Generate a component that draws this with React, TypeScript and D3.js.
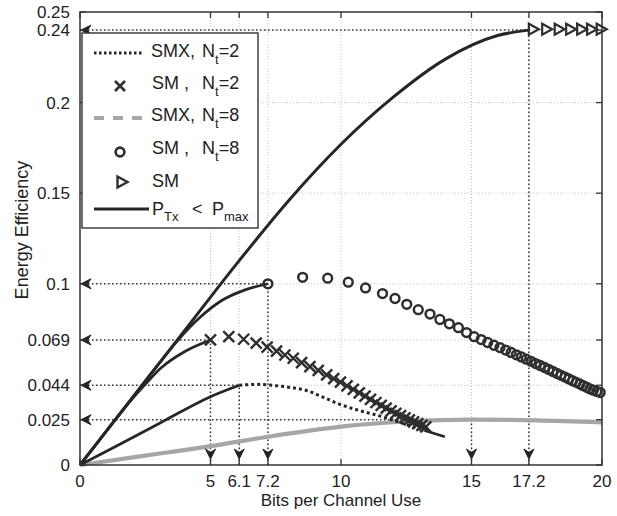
import React from 'react';
import * as d3 from 'd3';

// ---------- data ----------
const xTickValues = [0, 5, 6.1, 7.2, 10, 15, 17.2, 20];
const xTickLabels = ['0', '5', '6.1', '7.2', '10', '15', '17.2', '20'];
const yTickValues = [0, 0.025, 0.044, 0.069, 0.1, 0.15, 0.2, 0.24, 0.25];
const yTickLabels = ['0', '0.025', '0.044', '0.069', '0.1', '0.15', '0.2', '0.24', '0.25'];

// SM, P_Tx < P_max (solid)
const smSolidX = [0, 2, 4, 6, 8, 10, 12, 14, 16, 17.2];
const smSolidY = [0, 0.037, 0.074, 0.111, 0.146, 0.177, 0.203, 0.224, 0.237, 0.24];
// SM triangles
const smTriX = [17.37, 17.88, 18.36, 18.8, 19.22, 19.6, 19.97];
const smTriY = [0.2405, 0.2405, 0.2405, 0.2405, 0.2405, 0.2405, 0.2405];

// SM, Nt=8 solid
const smNt8SolidX = [0, 1, 2, 3, 3.7, 4.6, 5.4, 6.3, 7.2];
const smNt8SolidY = [0, 0.0185, 0.037, 0.0555, 0.068, 0.0815, 0.0905, 0.0965, 0.1];
// SM, Nt=8 circles
const smNt8CircX = [7.2, 8.53, 9.49, 10.28, 10.94, 11.59, 12.07, 12.52, 12.96, 13.41, 13.79, 14.15, 14.5, 14.81, 15.1,
  15.37, 15.62, 15.86, 16.09, 16.31, 16.52, 16.72, 16.91, 17.1, 17.28, 17.46, 17.63, 17.8, 17.96, 18.12, 18.28,
  18.43, 18.58, 18.73, 18.87, 19.01, 19.15, 19.28, 19.41, 19.54, 19.67, 19.8, 19.93];
const smNt8CircY = [0.1, 0.1036, 0.1031, 0.1009, 0.0977, 0.0946, 0.0919, 0.0887, 0.0857, 0.0833, 0.0803, 0.0779, 0.0758, 0.0731, 0.0708,
  0.0692, 0.0676, 0.0661, 0.0648, 0.0634, 0.0621, 0.0608, 0.0596, 0.0584, 0.0572, 0.056, 0.0549, 0.0538, 0.0527, 0.0516, 0.0505,
  0.0495, 0.0485, 0.0475, 0.0465, 0.0456, 0.0447, 0.0438, 0.0429, 0.042, 0.0413, 0.0406, 0.04];

// SM, Nt=2 solid
const smNt2SolidX = [0, 1, 2, 2.5, 3.1, 4, 5];
const smNt2SolidY = [0, 0.0185, 0.0365, 0.0445, 0.0535, 0.0625, 0.069];
// SM, Nt=2 crosses
const smNt2CrossX = [5, 5.7, 6.27, 6.75, 7.17, 7.53, 7.85, 8.17, 8.49, 8.81, 9.13, 9.45, 9.72, 9.98, 10.23, 10.47,
  10.7, 10.92, 11.13, 11.34, 11.54, 11.73, 11.92, 12.1, 12.28, 12.45, 12.62, 12.78, 12.94, 13.1, 13.25];
const smNt2CrossY = [0.069, 0.0708, 0.0694, 0.0673, 0.065, 0.0628, 0.0607, 0.0589, 0.0565, 0.0543, 0.0522, 0.0497, 0.0477, 0.0457, 0.0437, 0.0417,
  0.0398, 0.038, 0.0362, 0.0345, 0.0329, 0.0314, 0.0299, 0.0285, 0.0272, 0.026, 0.0249, 0.0238, 0.0228, 0.0219, 0.021];

// SMX, Nt=2: solid part (P_Tx < P_max) and dotted part
const smxNt2SolidX = [0, 1.4, 3.07, 5, 6.1];
const smxNt2SolidY = [0, 0.0105, 0.0232, 0.0377, 0.044];
const smxNt2DotX = [6.1, 6.8, 7.5, 8.1, 8.7, 9.3, 9.95, 10.6, 11.5, 12.4, 13.2];
const smxNt2DotY = [0.044, 0.0445, 0.0438, 0.0427, 0.041, 0.0375, 0.0335, 0.0305, 0.027, 0.0228, 0.019];
const smxNt2TailX = [13.2, 13.98];
const smxNt2TailY = [0.019, 0.0156];

// SMX, Nt=8 (gray)
const smxNt8X = [0, 2.5, 5, 7.5, 10, 12.5, 15, 17.5, 20];
const smxNt8Y = [0, 0.0052, 0.0104, 0.0163, 0.0212, 0.024, 0.025, 0.0246, 0.0235];

// reference (black dotted) lines
const refHY = [0.24, 0.1, 0.069, 0.044, 0.025];
const refHXEnd = [17.2, 7.2, 5, 6.1, 15];
const refVX = [5, 6.1, 7.2, 15, 17.2];
const refVYEnd = [0.069, 0.044, 0.1, 0.025, 0.24];

// ---------- drawing ----------
const W = 617;
const H = 516;
const FONT = 'Liberation Sans, Arial, Helvetica, sans-serif';
const DARK = '#262626';

const x = d3.scaleLinear().domain([0, 20]).range([80, 602]);
const y = d3.scaleLinear().domain([0, 0.25]).range([465, 12]);

const zip = (xs: number[], ys: number[]) => xs.map((v, i) => [v, ys[i]] as [number, number]);
const line = d3.line<[number, number]>().x(d => x(d[0])).y(d => y(d[1])).curve(d3.curveMonotoneX);

export default function App() {
  const x0 = x(0);
  const y0 = y(0);
  const gridX = xTickValues.filter(v => v > 0 && v < 20);
  const gridY = yTickValues.filter(v => v > 0 && v < 0.25);

  return (
    <svg width={W} height={H} style={{ position: 'absolute', left: 0, top: 0, background: '#fff' }}
      fontFamily={FONT}>
      <rect x={0} y={0} width={W} height={H} fill="#fff" />
      {/* grid */}
      {gridX.map((v, i) => (
        <line key={'gx' + i} x1={x(v)} x2={x(v)} y1={y(0)} y2={y(0.25)} stroke="#c4c4c4" strokeWidth={1} strokeDasharray="1 2" />
      ))}
      {gridY.map((v, i) => (
        <line key={'gy' + i} x1={x(0)} x2={x(20)} y1={y(v)} y2={y(v)} stroke="#c4c4c4" strokeWidth={1} strokeDasharray="1 2" />
      ))}
      {/* reference dotted lines */}
      {refHY.map((v, i) => (
        <line key={'rh' + i} x1={x0} x2={x(refHXEnd[i])} y1={y(v)} y2={y(v)} stroke="#333" strokeWidth={1.5} strokeDasharray="1.5 2.5" />
      ))}
      {refVX.map((v, i) => (
        <line key={'rv' + i} x1={x(v)} x2={x(v)} y1={y0} y2={y(refVYEnd[i])} stroke="#333" strokeWidth={1.5} strokeDasharray="1.5 2.5" />
      ))}

      {/* SMX Nt=8 gray */}
      <path d={line(zip(smxNt8X, smxNt8Y)) || ''} fill="none" stroke="#a6a6a6" strokeWidth={4.2} />
      {/* SMX Nt=2 */}
      <path d={line(zip(smxNt2SolidX, smxNt2SolidY)) || ''} fill="none" stroke={DARK} strokeWidth={2.7} />
      <path d={line(zip(smxNt2DotX, smxNt2DotY)) || ''} fill="none" stroke={DARK} strokeWidth={3} strokeDasharray="3 3" />
      <path d={line(zip(smxNt2TailX, smxNt2TailY)) || ''} fill="none" stroke={DARK} strokeWidth={2.6} />
      {/* SM solid curves */}
      <path d={line(zip(smSolidX, smSolidY)) || ''} fill="none" stroke={DARK} strokeWidth={3} />
      <path d={line(zip(smNt8SolidX, smNt8SolidY)) || ''} fill="none" stroke={DARK} strokeWidth={2.7} />
      <path d={line(zip(smNt2SolidX, smNt2SolidY)) || ''} fill="none" stroke={DARK} strokeWidth={2.7} />

      {/* markers */}
      {smNt8CircX.map((v, i) => (
        <circle key={'c' + i} cx={x(v)} cy={y(smNt8CircY[i])} r={4.4} fill="none" stroke="#2e2e2e" strokeWidth={2.5} />
      ))}
      {smNt2CrossX.map((v, i) => {
        const cx = x(v), cy = y(smNt2CrossY[i]);
        return (
          <path key={'x' + i} d={`M${cx - 5.5},${cy - 5.5}L${cx + 5.5},${cy + 5.5}M${cx - 5.5},${cy + 5.5}L${cx + 5.5},${cy - 5.5}`}
            stroke="#2e2e2e" strokeWidth={2.4} fill="none" />
        );
      })}
      {smTriX.map((v, i) => {
        const cx = x(v), cy = y(smTriY[i]);
        return (
          <path key={'t' + i} d={`M${cx - 4.5},${cy - 5.5}L${cx + 5.5},${cy}L${cx - 4.5},${cy + 5.5}Z`}
            stroke="#2e2e2e" strokeWidth={2.2} fill="none" />
        );
      })}

      {/* arrow heads */}
      {refHY.map((v, i) => {
        const py = y(v);
        const t = x0 + 1;
        return <path key={'ah' + i} d={`M${t},${py}L${t + 10},${py - 5}L${t + 6.5},${py}L${t + 10},${py + 5}Z`} fill="#222" stroke="#222" strokeWidth={1} />;
      })}
      {refVX.map((v, i) => {
        const px = x(v);
        const t = y0 - 6;
        return <path key={'av' + i} d={`M${px},${t}L${px - 5},${t - 10}L${px},${t - 6.5}L${px + 5},${t - 10}Z`} fill="#222" stroke="#222" strokeWidth={1} />;
      })}

      {/* axes box + ticks */}
      <rect x={x(0)} y={y(0.25)} width={x(20) - x(0)} height={y(0) - y(0.25)} fill="none" stroke="#333" strokeWidth={1.5} />
      {xTickValues.map((v, i) => (
        <g key={'xt' + i}>
          <line x1={x(v)} x2={x(v)} y1={y0} y2={y0 - 6} stroke="#333" strokeWidth={1.3} />
          <line x1={x(v)} x2={x(v)} y1={y(0.25)} y2={y(0.25) + 6} stroke="#333" strokeWidth={1.3} />
          <text x={x(v)} y={487} textAnchor="middle" fontSize={17} fill="#222">{xTickLabels[i]}</text>
        </g>
      ))}
      {yTickValues.map((v, i) => (
        <g key={'yt' + i}>
          <line x1={x0} x2={x0 + 6} y1={y(v)} y2={y(v)} stroke="#333" strokeWidth={1.3} />
          <line x1={x(20)} x2={x(20) - 6} y1={y(v)} y2={y(v)} stroke="#333" strokeWidth={1.3} />
          <text x={70} y={y(v)} dy="0.35em" textAnchor="end" fontSize={17} fill="#222">{yTickLabels[i]}</text>
        </g>
      ))}

      {/* axis titles */}
      <text x={341} y={506} textAnchor="middle" fontSize={17} fill="#222">Bits per Channel Use</text>
      <text transform="translate(28,230) rotate(-90)" textAnchor="middle" fontSize={18} fill="#222">Energy Efficiency</text>

      {/* legend */}
      <g>
        <rect x={82} y={33} width={176} height={195} fill="#fff" stroke="#333" strokeWidth={1.4} />
        <line x1={94} x2={142} y1={53} y2={53} stroke={DARK} strokeWidth={2.8} strokeDasharray="2.5 2.5" />
        <text x={151} y={57} fontSize={18} fill="#222">SMX,<tspan x={202}>N</tspan><tspan fontSize={13} dy={7}>t</tspan><tspan dy={-7}>=2</tspan></text>

        <path d="M115,81L125,91M115,91L125,81" stroke="#2e2e2e" strokeWidth={2.6} fill="none" />
        <text x={152} y={89} fontSize={18} fill="#222">SM ,<tspan x={202}>N</tspan><tspan fontSize={13} dy={7}>t</tspan><tspan dy={-7}>=2</tspan></text>

        <line x1={94} x2={144} y1={118} y2={118} stroke="#a6a6a6" strokeWidth={4} strokeDasharray="10 9" />
        <text x={151} y={121} fontSize={18} fill="#222">SMX,<tspan x={202}>N</tspan><tspan fontSize={13} dy={7}>t</tspan><tspan dy={-7}>=8</tspan></text>

        <circle cx={120} cy={152} r={4.4} fill="none" stroke="#2e2e2e" strokeWidth={2.6} />
        <text x={152} y={154} fontSize={18} fill="#222">SM ,<tspan x={202}>N</tspan><tspan fontSize={13} dy={7}>t</tspan><tspan dy={-7}>=8</tspan></text>

        <path d="M117.5,176.5L127.5,182L117.5,187.5Z" stroke="#2e2e2e" strokeWidth={2.4} fill="none" />
        <text x={152} y={187} fontSize={18} fill="#222">SM</text>

        <line x1={94} x2={149} y1={209} y2={209} stroke={DARK} strokeWidth={3.2} />
        <text x={152} y={215} fontSize={18} fill="#222">P<tspan fontSize={13} dy={6}>Tx</tspan><tspan x={192} dy={-6}>&lt;</tspan><tspan x={212}>P</tspan><tspan fontSize={13} dy={6}>max</tspan></text>
      </g>
    </svg>
  );
}
